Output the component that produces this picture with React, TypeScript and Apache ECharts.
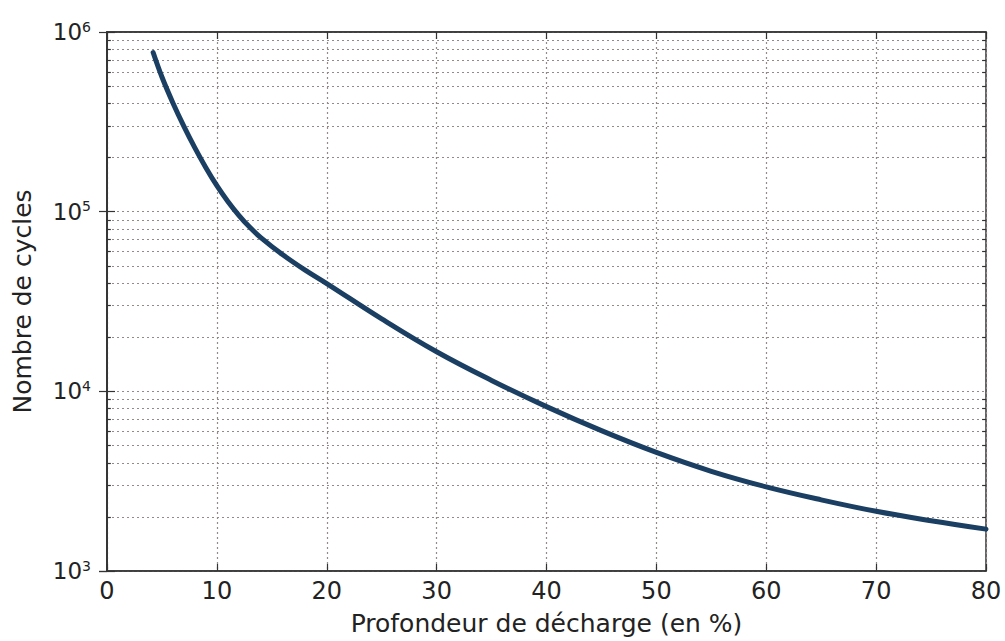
import React, { useEffect, useRef } from "react";
import * as echarts from "echarts";

const depth = [4.2, 5, 6, 7, 8, 9, 10, 11, 12, 13, 14, 16, 18, 20, 25, 30, 35, 40, 45, 50, 55, 60, 65, 70, 75, 80];
const cycles = [769000, 562000, 403000, 298500, 226500, 175800, 139600, 114000, 95500, 81800, 71700, 57500, 47400, 39800, 25300, 16600, 11500, 8220, 6040, 4570, 3590, 2940, 2490, 2150, 1905, 1710];
const minorGridValues = [
  2000, 3000, 4000, 5000, 6000, 7000, 8000, 9000,
  20000, 30000, 40000, 50000, 60000, 70000, 80000, 90000,
  200000, 300000, 400000, 500000, 600000, 700000, 800000, 900000,
];
const xMin = 0;
const xMax = 80;
const xStep = 10;
const yMin = 1000;
const yMax = 1000000;

export default function App() {
  const ref = useRef<HTMLDivElement>(null);
  useEffect(() => {
    if (!ref.current) return;
    const chart = echarts.init(ref.current, null, { renderer: "svg" });
    const font = "DejaVu Sans";
    const gridStyle = { color: "#958a8a", width: 1.2, type: [2, 3] as number[] };
    const minorTickLen = 0.35;
    const markData: any[] = [];
    minorGridValues.forEach((v) => {
      markData.push({ yAxis: v, lineStyle: gridStyle });
    });
    minorGridValues.forEach((v) => {
      markData.push([
        { coord: [xMin, v], lineStyle: { color: "#333", width: 1.2, type: "solid" } },
        { coord: [xMin + minorTickLen, v] },
      ]);
      markData.push([
        { coord: [xMax - minorTickLen, v], lineStyle: { color: "#333", width: 1.2, type: "solid" } },
        { coord: [xMax, v] },
      ]);
    });
    const supLabel = (value: number) => {
      const e = Math.round(Math.log10(value));
      return `{b|10}{s|${e}}`;
    };
    chart.setOption({
      animation: false,
      backgroundColor: "#ffffff",
      grid: {
        left: 107,
        right: 19,
        top: 32,
        bottom: 68,
        show: true,
        borderColor: "#333",
        borderWidth: 1.5,
        backgroundColor: "transparent",
      },
      xAxis: [
        {
          type: "value",
          min: xMin,
          max: xMax,
          interval: xStep,
          name: "Profondeur de décharge (en %)",
          nameLocation: "middle",
          nameGap: 40,
          nameTextStyle: { fontFamily: font, fontSize: 25, color: "#222" },
          axisLine: { show: true, lineStyle: { color: "#333", width: 1.5 } },
          axisTick: { show: true, inside: true, length: 7, lineStyle: { color: "#333", width: 1.2 } },
          axisLabel: { fontFamily: font, fontSize: 24, color: "#222", margin: 8 },
          splitLine: { show: true, lineStyle: gridStyle },
        },
        {
          type: "value",
          position: "top",
          min: xMin,
          max: xMax,
          interval: xStep,
          axisLine: { show: true, lineStyle: { color: "#333", width: 1.5 } },
          axisTick: { show: true, inside: true, length: 7, lineStyle: { color: "#333", width: 1.2 } },
          axisLabel: { show: false },
          splitLine: { show: false },
        },
      ],
      yAxis: [
        {
          type: "log",
          logBase: 10,
          min: yMin,
          max: yMax,
          name: "Nombre de cycles",
          nameLocation: "middle",
          nameGap: 72,
          nameTextStyle: { fontFamily: font, fontSize: 25, color: "#222" },
          axisLine: { show: true, lineStyle: { color: "#333", width: 1.5 } },
          axisTick: { show: true, inside: true, length: 8, lineStyle: { color: "#333", width: 1.2 } },
          axisLabel: {
            margin: 16,
            formatter: supLabel,
            rich: {
              b: { fontFamily: font, fontSize: 23, color: "#222", lineHeight: 25 },
              s: { fontFamily: font, fontSize: 14, color: "#222", verticalAlign: "top", lineHeight: 14 },
            },
          },
          splitLine: { show: true, lineStyle: gridStyle },
        },
        {
          type: "log",
          logBase: 10,
          min: yMin,
          max: yMax,
          position: "right",
          axisLine: { show: true, lineStyle: { color: "#333", width: 1.5 } },
          axisTick: { show: true, inside: true, length: 8, lineStyle: { color: "#333", width: 1.2 } },
          axisLabel: { show: false },
          splitLine: { show: false },
        },
      ],
      series: [
        {
          type: "line",
          xAxisIndex: 0,
          yAxisIndex: 0,
          data: depth.map((d, i) => [d, cycles[i]]),
          smooth: 0.4,
          showSymbol: false,
          symbol: "none",
          lineStyle: { color: "#1b3f62", width: 5, cap: "round" },
          markLine: {
            silent: true,
            symbol: ["none", "none"],
            label: { show: false },
            animation: false,
            data: markData,
          },
          z: 5,
        },
      ],
    });
    return () => chart.dispose();
  }, []);
  return (
    <div
      ref={ref}
      style={{ position: "fixed", left: 0, top: 0, width: 1005, height: 641, background: "#fff" }}
    />
  );
}
